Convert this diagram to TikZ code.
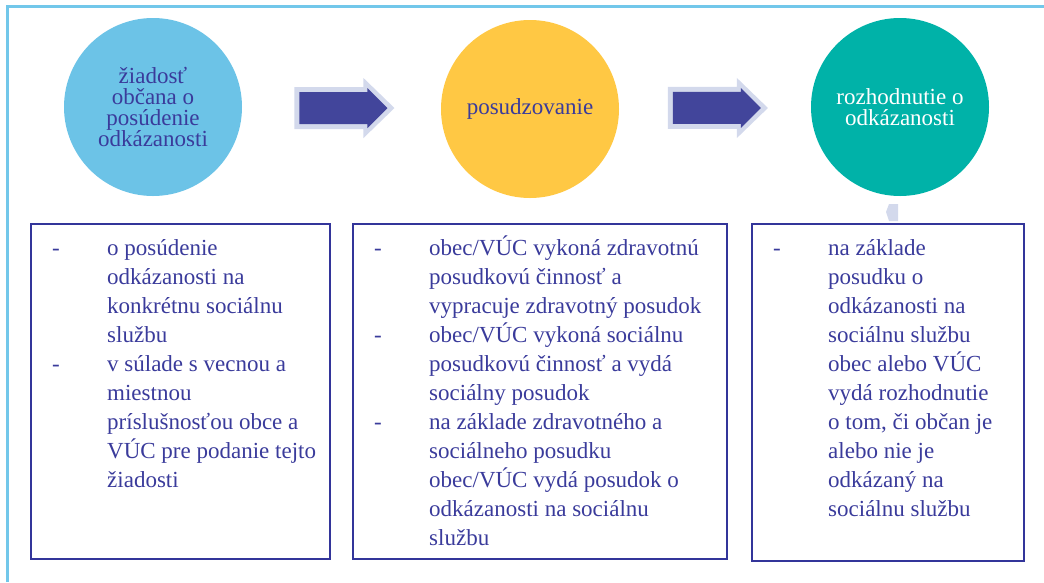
\documentclass[tikz,border=0pt]{standalone}
\usepackage{fontspec}
\setmainfont{Liberation Serif}
\usepackage{tikz}
\usetikzlibrary{calc}

\definecolor{framecol}{HTML}{72C7EA}
\definecolor{reqcol}{HTML}{6CC3E7}
\definecolor{assesscol}{HTML}{FFC844}
\definecolor{deccol}{HTML}{00B2A8}
\definecolor{txtcol}{HTML}{3A3B9B}
\definecolor{boxcol}{HTML}{33359A}
\definecolor{arrowcol}{HTML}{42459B}
\definecolor{glowcol}{HTML}{D3D9EC}

\newcommand{\dashln}{\makebox[55pt][l]{-}}
\newcommand{\contln}{\hspace*{55pt}}
\newcommand{\stagefont}{\fontsize{23}{21}\selectfont\lineskiplimit=-30pt\relax}

\begin{document}
\begin{tikzpicture}[x=1pt,y=-1pt,
  stage/.style={circle,minimum size=178pt,inner sep=0pt,align=center,
    font=\stagefont},
  panel/.style={draw=boxcol,line width=2pt,anchor=north west,inner sep=0pt},
  paneltext/.style={anchor=north west,inner sep=0pt,align=left,text=txtcol,
    font=\fontsize{23}{29}\selectfont}]
\useasboundingbox (0,0) rectangle (1044,582);

% frame
\draw[framecol,line width=3pt] (7,582) -- (7,6) -- (1044,6);

% stages
\node[stage,fill=reqcol,text=txtcol] (request) at (153,107)
  {žiadosť\\občana o\\posúdenie\\odkázanosti};
\node[stage,fill=assesscol,text=txtcol] (assess) at (530,109)
  {posudzovanie};
\node[stage,fill=deccol,text=white] (decision) at (900,107)
  {rozhodnutie o\\odkázanosti};

% block arrows
\foreach \from/\to in {request/assess,assess/decision}{
  \begin{scope}[shift={($(\from.east)!0.51!(\to.west)$)}]
    \fill[glowcol] (-49,-21) -- (20,-21) -- (20,-30) -- (51,0)
      -- (20,30) -- (20,21) -- (-49,21) -- cycle;
    \fill[arrowcol] (-44,-16) -- (24,-16) -- (24,-20) -- (44,0)
      -- (24,20) -- (24,16) -- (-44,16) -- cycle;
  \end{scope}
}

% small marker
\fill[glowcol] (889,204) -- (898,204) -- (898,221) -- (889,221) -- (886,212) -- cycle;

% boxes
\node[panel,minimum width=299pt,minimum height=335pt] (box1) at (30,223) {};
\node[panel,minimum width=374pt,minimum height=335pt] (box2) at (352,223) {};
\node[panel,minimum width=272pt,minimum height=337pt] (box3) at (751,223) {};

\node[paneltext] (list1) at ([xshift=22pt,yshift=-12pt]box1.north west)
  {\strut\dashln o posúdenie\\
   \contln odkázanosti na\\
   \contln konkrétnu sociálnu\\
   \contln službu\\
   \dashln v súlade s vecnou a\\
   \contln miestnou\\
   \contln príslušnosťou obce a\\
   \contln VÚC pre podanie tejto\\
   \contln žiadosti};
\node[paneltext] (list2) at ([xshift=22pt,yshift=-12pt]box2.north west)
  {\strut\dashln obec/VÚC vykoná zdravotnú\\
   \contln posudkovú činnosť a\\
   \contln vypracuje zdravotný posudok\\
   \dashln obec/VÚC vykoná sociálnu\\
   \contln posudkovú činnosť a vydá\\
   \contln sociálny posudok\\
   \dashln na základe zdravotného a\\
   \contln sociálneho posudku\\
   \contln obec/VÚC vydá posudok o\\
   \contln odkázanosti na sociálnu\\
   \contln službu};
\node[paneltext] (list3) at ([xshift=22pt,yshift=-12pt]box3.north west)
  {\strut\dashln na základe\\
   \contln posudku o\\
   \contln odkázanosti na\\
   \contln sociálnu službu\\
   \contln obec alebo VÚC\\
   \contln vydá rozhodnutie\\
   \contln o tom, či občan je\\
   \contln alebo nie je\\
   \contln odkázaný na\\
   \contln sociálnu službu};

\end{tikzpicture}
\end{document}
